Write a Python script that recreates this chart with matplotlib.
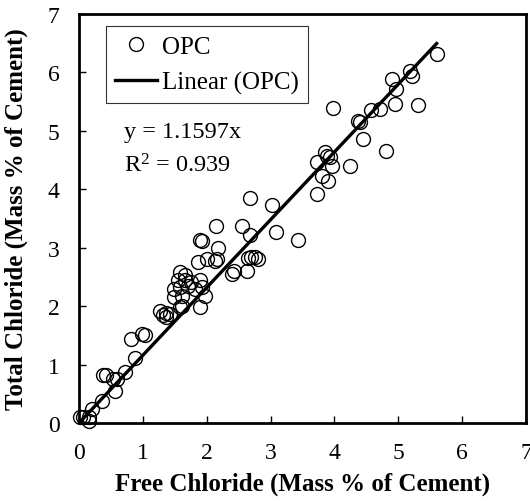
import matplotlib
matplotlib.use('Agg')
import matplotlib.pyplot as plt
import numpy as np

# free chloride (x) and total chloride (y), mass % of cement
free_cl = [0.02, 0.07, 0.15, 0.15, 0.20, 0.36, 0.56, 0.38, 0.43, 0.54, 0.59,
           0.72, 0.88, 0.82, 0.98, 1.03,
           1.27, 1.37, 1.36, 1.32, 1.42, 1.58, 1.89, 1.61,
           1.48, 1.61, 1.97, 1.48, 1.58, 1.71, 1.82, 1.92,
           1.55, 1.66, 1.76, 1.89, 1.58, 1.66,
           1.86, 2.00, 2.13, 2.16, 2.39, 2.42, 2.63,
           2.65, 2.70, 2.76, 2.81, 2.18, 1.89, 1.92,
           2.15, 2.55, 2.68, 3.08, 3.43, 2.68, 3.03,
           3.72, 3.80, 3.90, 3.72, 3.96, 3.85, 3.88, 3.93, 4.24, 4.81, 4.45,
           4.37, 4.40, 4.58, 4.71, 3.98, 4.95, 5.31, 4.97, 4.90, 5.18, 5.21, 5.60]
total_cl = [0.10, 0.10, 0.10, 0.04, 0.24, 0.38, 0.55, 0.82, 0.82, 0.76, 0.75,
            0.88, 1.12, 1.44, 1.52, 1.51,
            1.92, 1.89, 1.81, 1.84, 1.87, 1.98, 1.98, 2.01,
            2.15, 2.18, 2.18, 2.30, 2.32, 2.34, 2.30, 2.32,
            2.44, 2.44, 2.42, 2.44, 2.58, 2.53,
            2.75, 2.81, 2.78, 2.81, 2.55, 2.61, 2.61,
            2.82, 2.84, 2.84, 2.81, 3.00, 3.14, 3.11,
            3.38, 3.38, 3.22, 3.27, 3.14, 3.85, 3.73,
            3.92, 4.23, 4.15, 4.46, 4.40, 4.63, 4.57, 4.55, 4.40, 4.66, 4.86,
            5.17, 5.15, 5.35, 5.37, 5.39, 5.46, 5.44, 5.72, 5.89, 6.03, 5.94, 6.32]

slope = 1.1597
r2 = 0.939
fit_x = [0.0, 5.6]
fit_y = [slope * v for v in fit_x]
ticks = list(range(0, 8))

plt.rcParams['font.family'] = ['Liberation Serif', 'DejaVu Serif']
plt.rcParams['mathtext.fontset'] = 'custom'
plt.rcParams['mathtext.rm'] = 'Liberation Serif'
plt.rcParams['mathtext.it'] = 'Liberation Serif:italic'

fig = plt.figure(figsize=(5.30, 5.02), dpi=100)
ax = fig.add_axes([79 / 530, 1 - 424 / 502, (526 - 79) / 530, (424 - 15) / 502])

ax.plot(free_cl, total_cl, 'o', mfc='none', mec='black', ms=10, mew=1.0,
        label='OPC', clip_on=False, zorder=3)
ax.plot(fit_x, fit_y, '-', color='black', lw=2.4, label='Linear (OPC)', zorder=2)

ax.set_xlim(0, 7)
ax.set_ylim(0, 7)
ax.set_xticks(ticks)
ax.set_yticks(ticks)
ax.tick_params(direction='in', length=5, width=1, labelsize=17, top=False, right=False)
ax.tick_params(axis='x', pad=14)
ax.tick_params(axis='y', pad=14)
for s in ax.spines.values():
    s.set_linewidth(2)

ax.set_xlabel('Free Chloride (Mass % of Cement)', fontsize=18, fontweight='bold', labelpad=6)
ax.set_ylabel('Total Chloride (Mass % of Cement)', fontsize=18, fontweight='bold', labelpad=14)

leg = ax.legend(loc='upper left', bbox_to_anchor=(0.06, 0.97), fontsize=18,
                frameon=True, fancybox=False, edgecolor='black', handlelength=1.7,
                handletextpad=0.2, borderpad=0.35, labelspacing=0.55, borderaxespad=0)
leg.get_frame().set_linewidth(0.8)

ax.text(0.10, 0.70, 'y = 1.1597x', transform=ax.transAxes, fontsize=17.5)
ax.text(0.10, 0.615, 'R$^2$ = 0.939', transform=ax.transAxes, fontsize=17.5)

fig.savefig('out.png', dpi=100)
